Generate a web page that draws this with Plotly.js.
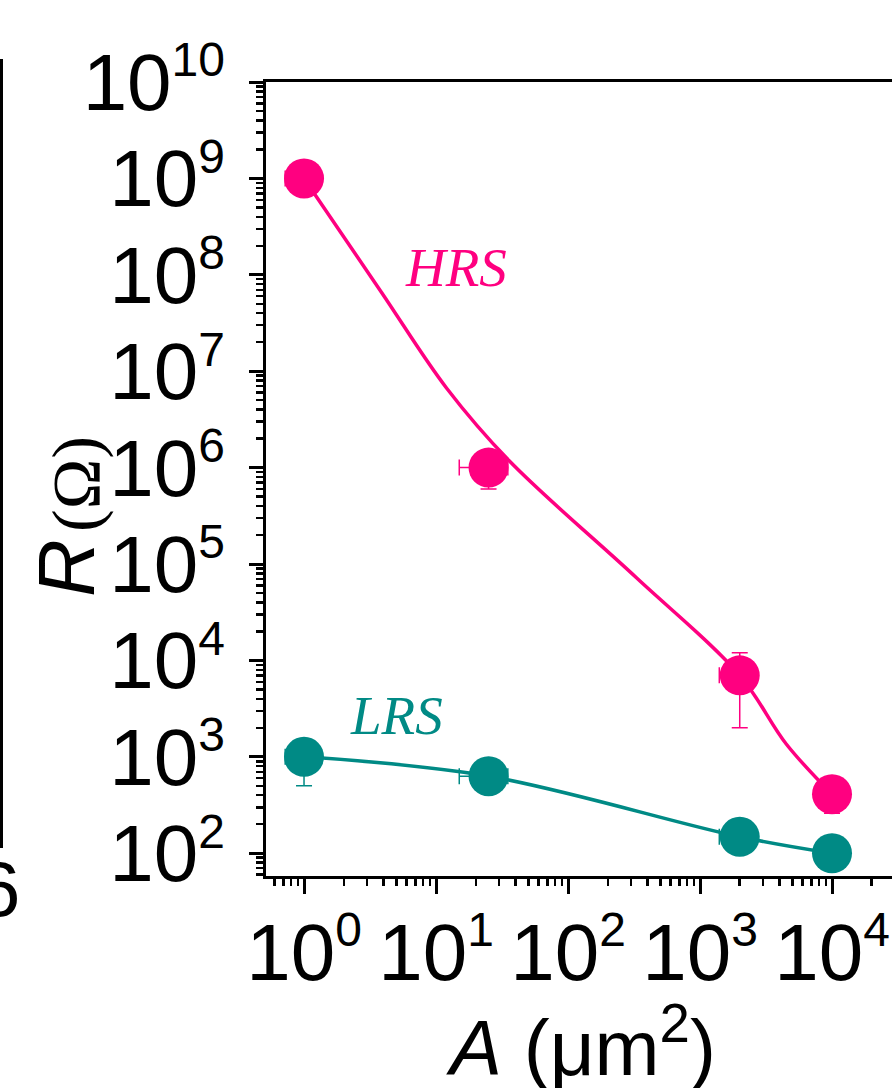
<!DOCTYPE html>
<html>
<head>
<meta charset="utf-8">
<script src="https://cdn.plot.ly/plotly-3.0.1.min.js"></script>
<style>
  html, body { margin: 0; padding: 0; background: #ffffff; overflow: hidden; }
  #chart { width: 892px; height: 1088px; }
</style>
</head>
<body>
<div id="chart"></div>
<script>
// Device area (µm²) and resistance (Ω) of the two resistive states
const areaUm2 = [1, 25, 2000, 10000];
const areaErr = [0.28, 10, 600, 1000];

const hrsOhm = [1e9, 1.0e6, 7000, 410];
const hrsErr = [1e8, 4e5, 5000, 150];

const lrsOhm = [1000, 630, 148, 100];
const lrsErr = [500, 60, 20, 10];

// Smooth guide through the HRS points
const hrsCurveA = [1, 3.8, 12, 36, 330, 2000, 4500, 10000];
const hrsCurveR = [1e9, 6.8e7, 6.7e6, 1.17e6, 7.2e4, 7000, 1360, 410];

// Axis tick values and exponents of the labels
const xTickVals = [1, 10, 100, 1000, 10000];
const xExp = ['0', '1', '2', '3', '4'];
const yTickVals = [1e2, 1e3, 1e4, 1e5, 1e6, 1e7, 1e8, 1e9, 1e10];
const yExp = ['2', '3', '4', '5', '6', '7', '8', '9', '10'];

const HRS_COLOR = '#FF0080';
const LRS_COLOR = '#008A85';

// Plot-area geometry in pixels
const W = 892, H = 1088;
const L = 266, R = 892, T = 82, B = 876;
const xRange = [-0.288, 4.4545];
const yRange = [1.764, 10];

const powerLabel = e => '10<sup><span style="font-size:48px">' + e + '</span></sup>';

function minorLogTicks(lo, hi) {
  const out = [];
  for (let d = Math.floor(lo); d <= Math.ceil(hi); d++) {
    for (let k = 2; k <= 9; k++) {
      const v = k * Math.pow(10, d);
      const lv = Math.log10(v);
      if (lv > lo && lv < hi) out.push(v);
    }
  }
  return out;
}

// pixel -> paper helpers for labels placed outside the plot area
const px = p => (p - L) / (R - L);
const py = p => (B - p) / (B - T);

const sans = 'Liberation Sans, Arial, sans-serif';
const serif = 'Liberation Serif, Times New Roman, serif';

const traces = [
  {
    x: hrsCurveA, y: hrsCurveR, type: 'scatter', mode: 'lines',
    line: { color: HRS_COLOR, width: 3.5, shape: 'spline', smoothing: 1 },
    hoverinfo: 'skip', showlegend: false
  },
  {
    x: areaUm2, y: lrsOhm, type: 'scatter', mode: 'lines',
    line: { color: LRS_COLOR, width: 3.5, shape: 'spline', smoothing: 1 },
    hoverinfo: 'skip', showlegend: false
  },
  {
    x: areaUm2, y: hrsOhm, type: 'scatter', mode: 'markers', name: 'HRS',
    marker: { color: HRS_COLOR, size: 40, line: { width: 0 } },
    error_y: { type: 'data', array: hrsErr, visible: true, color: HRS_COLOR, thickness: 1.5, width: 8 },
    error_x: { type: 'data', array: areaErr, visible: true, color: HRS_COLOR, thickness: 1.5, width: 8 },
    showlegend: false
  },
  {
    x: areaUm2, y: lrsOhm, type: 'scatter', mode: 'markers', name: 'LRS',
    marker: { color: LRS_COLOR, size: 40, line: { width: 0 } },
    error_y: { type: 'data', array: lrsErr, visible: true, color: LRS_COLOR, thickness: 1.5, width: 8 },
    error_x: { type: 'data', array: areaErr, visible: true, color: LRS_COLOR, thickness: 1.5, width: 8 },
    showlegend: false
  }
];

const layout = {
  width: W, height: H,
  margin: { l: L, r: W - R, t: T, b: H - B, pad: 0 },
  paper_bgcolor: '#ffffff', plot_bgcolor: '#ffffff',
  showlegend: false,
  font: { family: sans, color: '#000000' },
  xaxis: {
    type: 'log', range: xRange,
    showgrid: false, zeroline: false,
    showline: true, linewidth: 3, linecolor: '#000000', mirror: true,
    ticks: 'outside', ticklen: 15, tickwidth: 3, tickcolor: '#000000',
    tickmode: 'array', tickvals: xTickVals, ticktext: xExp.map(powerLabel),
    tickfont: { family: sans, size: 80, color: '#000000' },
    ticklabeloverflow: 'allow', ticklabelstandoff: -10,
    minor: { tickmode: 'array', tickvals: minorLogTicks(xRange[0], xRange[1]),
             ticks: 'outside', ticklen: 7, tickwidth: 2.5, tickcolor: '#000000', showgrid: false }
  },
  yaxis: {
    type: 'log', range: yRange,
    showgrid: false, zeroline: false,
    showline: true, linewidth: 3, linecolor: '#000000', mirror: false,
    ticks: 'outside', ticklen: 14, tickwidth: 3, tickcolor: '#000000',
    tickmode: 'array', tickvals: yTickVals, ticktext: yExp.map(powerLabel),
    tickfont: { family: sans, size: 80, color: '#000000' },
    ticklabeloverflow: 'allow', ticklabelstandoff: 8,
    minor: { tickmode: 'array', tickvals: minorLogTicks(yRange[0], yRange[1]),
             ticks: 'outside', ticklen: 7, tickwidth: 2.5, tickcolor: '#000000', showgrid: false }
  },
  annotations: [
    {
      // y-axis title: italic R
      xref: 'paper', yref: 'paper', x: px(66), y: py(568),
      xanchor: 'center', yanchor: 'middle', textangle: -90, showarrow: false,
      text: '<i>R</i>', font: { family: sans, size: 80, color: '#000000' }
    },
    {
      // y-axis title: unit
      xref: 'paper', yref: 'paper', x: px(76), y: py(484),
      xanchor: 'center', yanchor: 'middle', textangle: -90, showarrow: false,
      text: '(Ω)', font: { family: serif, size: 68, color: '#000000' }
    },
    {
      xref: 'paper', yref: 'paper', x: px(581), y: py(1042),
      xanchor: 'center', yanchor: 'middle', showarrow: false,
      text: '<i>A</i> (μm<sup>2</sup>)',
      font: { family: sans, size: 78, color: '#000000' }
    },
    {
      xref: 'x', yref: 'y', x: Math.log10(14.2), y: 8.08,
      xanchor: 'center', yanchor: 'middle', showarrow: false,
      text: '<i>HRS</i>', font: { family: serif, size: 55, color: HRS_COLOR }
    },
    {
      xref: 'x', yref: 'y', x: Math.log10(5.0), y: 3.43,
      xanchor: 'center', yanchor: 'middle', showarrow: false,
      text: '<i>LRS</i>', font: { family: serif, size: 55, color: LRS_COLOR }
    },
    {
      // edge of the neighbouring panel's axis label
      xref: 'paper', yref: 'paper', x: px(-2), y: py(889),
      xanchor: 'center', yanchor: 'middle', showarrow: false,
      text: '6', font: { family: sans, size: 78, color: '#000000' }
    }
  ],
  shapes: [
    {
      // neighbouring panel's right axis line
      type: 'line', xref: 'paper', yref: 'paper',
      x0: px(1.5), x1: px(1.5), y0: py(59), y1: py(848),
      line: { color: '#000000', width: 3 }
    }
  ]
};

Plotly.newPlot('chart', traces, layout, { staticPlot: true, displayModeBar: false });
</script>
</body>
</html>
